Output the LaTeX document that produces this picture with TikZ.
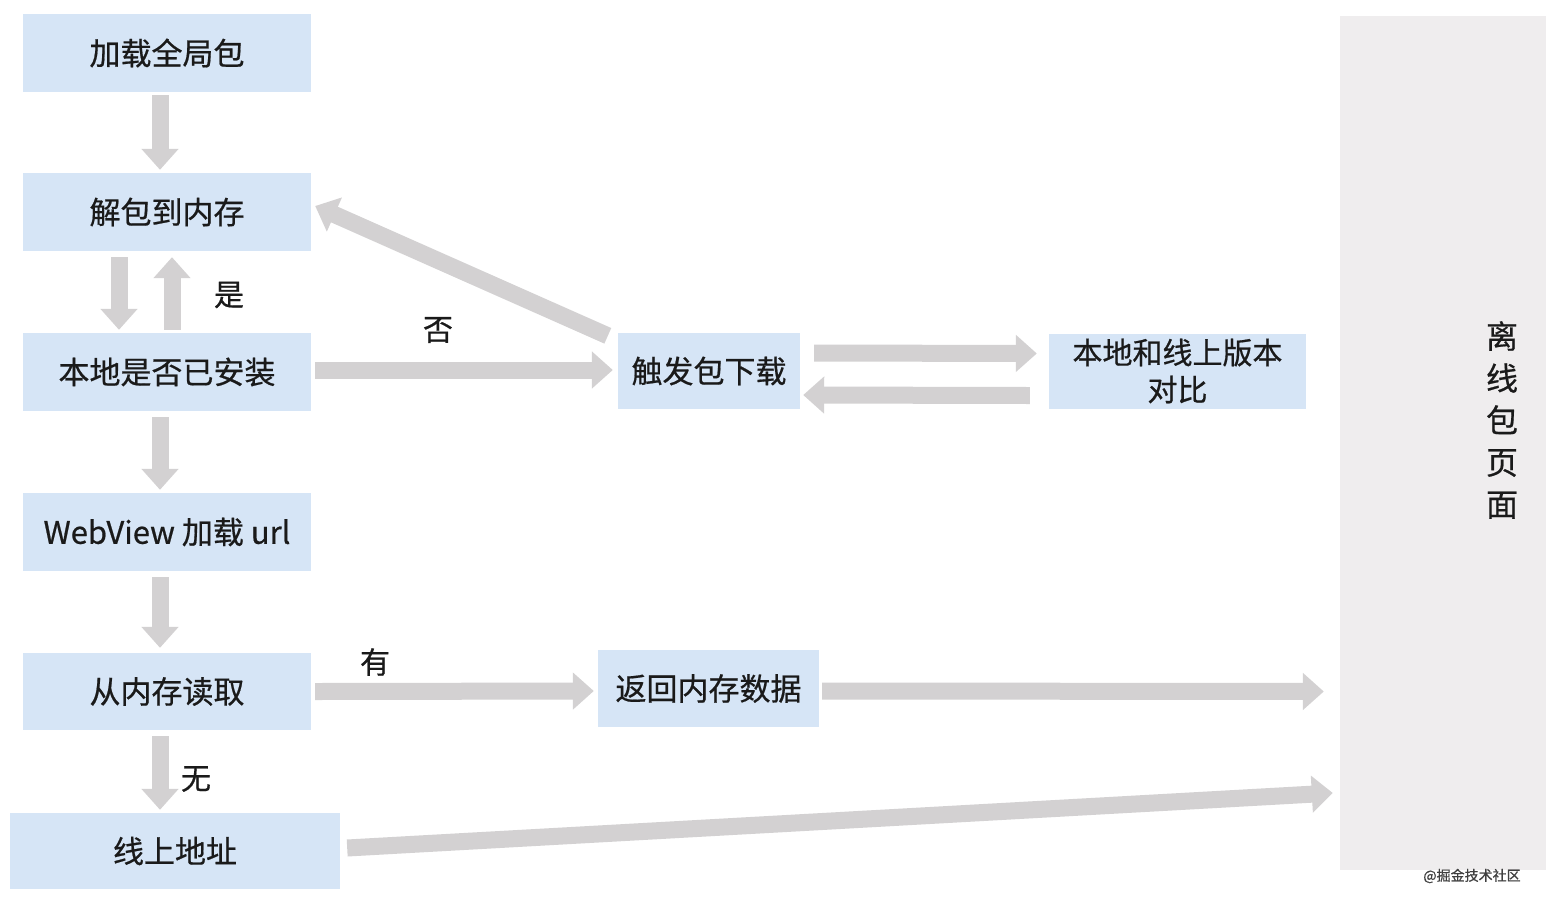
\documentclass[tikz,border=0pt]{standalone}
\usepackage{fontspec}
\setmainfont{Noto Sans CJK SC}[FakeBold=0.6]
\usetikzlibrary{arrows.meta,calc}
\definecolor{boxblue}{HTML}{D6E5F6}
\definecolor{arrowgray}{HTML}{D3D1D2}
\definecolor{panelgray}{HTML}{EFEDEE}
\definecolor{txt}{HTML}{1A1A1A}
\tikzset{
  stepbox/.style={fill=boxblue, draw=none, minimum width=288pt, minimum height=78pt, inner sep=0pt, text=txt, font=\fontsize{31}{37}\selectfont},
  fatarrow/.style={draw=arrowgray, line width=17pt, -{Triangle[width=36pt,length=21pt]}},
  lbl/.style={text=txt, font=\fontsize{30}{36}\selectfont, inner sep=0pt},
}
\begin{document}
\begin{tikzpicture}[x=1pt,y=-1pt]
\useasboundingbox (0,0) rectangle (1546,900);
\fill[white] (0,0) rectangle (1546,900);
% panel
\node[fill=panelgray, minimum width=206pt, minimum height=854pt, inner sep=0pt] (panel) at (1443,443) {};
\node[text=txt, font=\fontsize{32}{42}\selectfont, align=center, inner sep=0pt] (ptxt) at (1502,420) {离\\线\\包\\页\\面};
\node[text=black!75, font=\fontsize{14}{16}\selectfont, inner sep=0pt] (wm) at (1472,876) {@掘金技术社区};
% boxes
\node[stepbox] (b1) at (167,53) {加载全局包};
\node[stepbox] (b2) at (167,212) {解包到内存};
\node[stepbox] (b3) at (167,372) {本地是否已安装};
\node[stepbox] (b4) at (167,532) {WebView 加载 url};
\node[stepbox, minimum height=77pt] (b5) at (167,691.5) {从内存读取};
\node[stepbox, minimum width=330pt, minimum height=76pt] (b6) at (175,851) {线上地址};
\node[stepbox, minimum width=182pt, minimum height=76pt] (trig) at (709,371) {触发包下载};
\node[stepbox, minimum width=257pt, minimum height=75pt, align=center, font=\fontsize{30}{37}\selectfont] (cmp) at (1177.5,371) {本地和线上版本\\对比};
\node[stepbox, minimum width=221pt, minimum height=77pt] (ret) at (708.5,688.5) {返回内存数据};
% labels
\node[lbl] (yes) at (229,295) {是};
\node[lbl] (no) at (438,330) {否};
\node[lbl] (have) at (375,662) {有};
\node[lbl] (none) at (196,779) {无};
% arrows
\draw[fatarrow] ($(b1.south)+(-7,3)$) -- ($(b2.north)+(-7,-3)$);
\draw[fatarrow] ($(b2.south)+(-48,6)$) -- ($(b3.north)+(-48,-3)$);
\draw[fatarrow] ($(b3.north)+(5,-3)$) -- ($(b2.south)+(5,6)$);
\draw[fatarrow] ($(b3.east)+(4,-2)$) -- ($(trig.west)+(-5,-1)$);
\draw[fatarrow] ($(trig.north west)+(-10,3)$) -- ($(b2.east)+(4,-6)$);
\draw[fatarrow] ($(trig.east)+(14,-18)$) -- ($(cmp.west)+(-12,-17.5)$);
\draw[fatarrow] ($(cmp.west)+(-19,24.5)$) -- ($(trig.east)+(3,24)$);
\draw[fatarrow] ($(b3.south)+(-7,6)$) -- ($(b4.north)+(-7,-3)$);
\draw[fatarrow] ($(b4.south)+(-7,6)$) -- ($(b5.north)+(-7,-5)$);
\draw[fatarrow] ($(b5.east)+(4,0)$) -- ($(ret.west)+(-4,2.5)$);
\draw[fatarrow] ($(ret.east)+(3,2.5)$) -- ($(panel.west |- b5.east)+(-16,0)$);
\draw[fatarrow] ($(b5.south)+(-7,6)$) -- ($(b6.north)+(-15,-3)$);
\draw[fatarrow] ($(b6.east)+(7,-3)$) -- ($(panel.west)+(-7,350)$);
\end{tikzpicture}
\end{document}
